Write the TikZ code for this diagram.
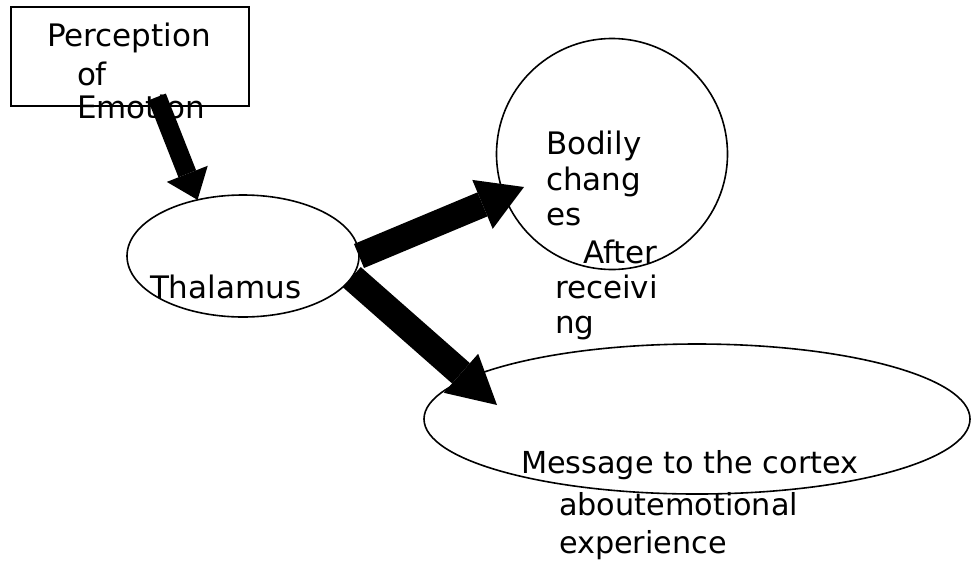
\documentclass[tikz,border=0pt]{standalone}
\usepackage{fontspec}
\setmainfont{DejaVu Sans}
\usetikzlibrary{shapes.geometric,arrows.meta,calc}
\begin{document}
\begin{tikzpicture}[x=1pt,y=-1pt,
  outline/.style={draw=black,line width=1.6pt,inner sep=0pt,outer sep=0pt},
  lbl/.style={anchor=base west,inner sep=0pt,outer sep=0pt,font=\fontsize{31}{37}\selectfont},
  lblm/.style={anchor=base west,inner sep=0pt,outer sep=0pt,font=\fontsize{30.3}{36}\selectfont},
  arrsmall/.style={line width=19pt,-{Triangle[length=28pt,width=44pt,line width=0pt]}},
  arrbig/.style={line width=26pt,-{Triangle[length=45pt,width=53pt,line width=0pt]}},
  arrbigb/.style={line width=27pt,-{Triangle[length=48pt,width=52pt,line width=0pt]}}
]
\useasboundingbox (0,0) rectangle (971,563);

% shapes
\node[outline,rectangle,minimum width=238pt,minimum height=99pt] (box) at (130,56.5) {};
\node[outline,ellipse,minimum width=232pt,minimum height=122pt] (thal) at (243,256) {};
\node[outline,circle,minimum size=231pt] (body) at (612,154) {};
\node[outline,ellipse,minimum width=546pt,minimum height=150pt] (cortex) at (697,419) {};

% texts
\node[lbl] (p1) at (47,46) {Perception};
\node[lbl] (p2) at (77,85) {of};
\node[lbl] (p3) at (77,118) {Emotion};
\node[lbl] (th) at (150,298) {Thalamus};
\node[lbl] (b1) at (546,154) {Bodily};
\node[lbl] (b2) at (546,190) {chang};
\node[lbl] (b3) at (546,225) {es};
\node[lbl] (a1) at (583,263) {After};
\node[lbl] (a2) at (555,298) {receivi};
\node[lbl] (a3) at (555,333) {ng};
\node[lblm] (m1) at (521,473) {Message to the cortex};
\node[lblm] (m2) at (559,515) {aboutemotional};
\node[lblm] (m3) at (559,553) {experience};

% arrow ends
\coordinate (e1s) at ($(box.south)+(27,-9)$);
\coordinate (e1t) at (thal.129);
\coordinate (e2t) at ($(body.center)+(-88,33)$);
\coordinate (e3s) at (thal.-11.4);
\coordinate (e3t) at ($(cortex.center)+(-200,-14)$);

% arrows
\draw[arrsmall] (e1s) -- (e1t);
\draw[arrbig] (thal.east) -- (e2t);
\draw[arrbigb] (e3s) -- (e3t);
\end{tikzpicture}
\end{document}
